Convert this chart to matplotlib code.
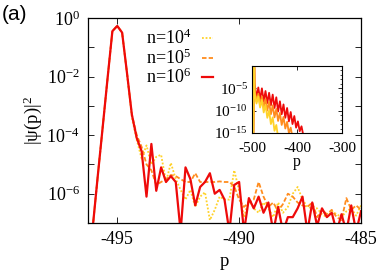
import numpy as np
import matplotlib
matplotlib.use('Agg')
import matplotlib.pyplot as plt
from matplotlib.ticker import FixedLocator, FuncFormatter, NullLocator, NullFormatter

plt.rcParams['font.family'] = 'Liberation Serif'
plt.rcParams['mathtext.fontset'] = 'custom'
plt.rcParams['mathtext.rm'] = 'Liberation Serif'
plt.rcParams['mathtext.it'] = 'Liberation Serif:italic'

##################
# DATA ###########
##################

# main panel: p grid and log10 |psi(p)|^2 for each n
p = [-496.2, -496.0, -495.8, -495.6, -495.4, -495.2, -495.0, -494.8, -494.6, -494.4,
     -494.2, -494.0, -493.8, -493.6, -493.4, -493.2, -493.0, -492.8, -492.6, -492.4,
     -492.2, -492.0, -491.8, -491.6, -491.4, -491.2, -491.0, -490.8, -490.6, -490.4,
     -490.2, -490.0, -489.8, -489.6, -489.4, -489.2, -489.0, -488.8, -488.6, -488.4,
     -488.2, -488.0, -487.8, -487.6, -487.4, -487.2, -487.0, -486.8, -486.6, -486.4,
     -486.2, -486.0, -485.8, -485.6, -485.4, -485.2, -485.0]

log_n6 = [-8.8, -7.1, -5.4, -3.75, -2.08, -0.45, -0.27, -0.5, -1.88, -3.3,
          -4.1, -4.55, -6.1, -4.3, -5.9, -5.1, -5.6, -5.4, -5.6, -7.3,
          -5.1, -5.5, -6.4, -5.77, -5.6, -5.3, -6.0, -5.87, -6.2, -7.3,
          -5.7, -5.6, -7.3, -6.15, -6.5, -6.1, -6.65, -6.3, -7.3, -6.45,
          -7.3, -6.8, -6.8, -6.5, -6.1, -7.3, -6.3, -7.1, -6.5, -6.8,
          -6.65, -7.3, -6.7, -7.3, -6.4, -7.3, -6.6]

log_n5 = [-8.8, -7.1, -5.4, -3.75, -2.08, -0.45, -0.27, -0.5, -1.88, -3.3,
          -4.0, -4.4, -5.0, -5.2, -5.7, -5.6, -5.5, -5.36, -5.4, -5.5,
          -5.6, -5.6, -5.3, -5.6, -5.6, -5.6, -5.6, -5.58, -5.6, -5.6,
          -5.75, -6.2, -6.45, -6.3, -6.2, -5.6, -6.1, -6.45, -6.3, -6.6,
          -6.35, -6.0, -6.1, -6.3, -6.4, -6.45, -6.3, -6.8, -6.55, -6.7,
          -6.55, -6.8, -6.9, -6.15, -6.55, -6.4, -6.55]

log_n4 = [-8.8, -7.1, -5.4, -3.75, -2.08, -0.45, -0.27, -0.5, -1.88, -3.4,
          -4.16, -4.8, -4.35, -5.0, -4.74, -4.67, -5.6, -4.95, -5.5, -5.87,
          -6.2, -5.87, -6.45, -6.1, -5.95, -6.9, -6.55, -6.1, -6.2, -6.2,
          -5.2, -5.9, -6.8, -6.2, -6.5, -6.65, -6.3, -6.5, -6.8, -6.3,
          -6.65, -6.45, -6.0, -5.77, -6.2, -6.45, -6.5, -6.5, -6.7, -6.8,
          -6.6, -6.7, -6.8, -6.6, -6.5, -6.75, -6.4]

# inset: wide p range, noisy band
p_in_n6 = [-497, -495, -494, -490, -486, -482, -478, -474, -470, -466, -462, -458,
           -454, -450, -446, -442, -438, -434, -430, -426, -422, -418, -414, -410,
           -406, -402, -398, -394, -390, -386]
log_in_n6 = [-16, -0.3, -4.0, -7.2, -4.8, -7.5, -5.0, -7.9, -5.6, -8.3, -6.0, -8.8,
             -6.4, -9.4, -7.0, -10.2, -7.9, -10.8, -8.6, -11.6, -9.4, -12.4, -10.3, -13.0,
             -11.2, -13.8, -12.4, -14.6, -13.5, -15.5]

p_in_n5 = [-497, -495, -494, -490, -486, -482, -478, -474, -470, -466, -462, -458,
           -454, -450, -446, -442, -438, -434, -430, -426, -422, -418, -414, -410]
log_in_n5 = [-16, -0.3, -5.5, -8.0, -6.2, -8.6, -6.8, -9.3, -7.4, -10.0, -8.0, -10.8,
             -8.8, -11.5, -9.6, -12.3, -10.5, -13.2, -11.4, -14.0, -12.5, -15.0, -13.8, -16]

p_in_n4 = [-497, -495, -494, -490, -486, -482, -478, -474, -470, -466, -462, -458,
           -454, -450, -446, -442]
log_in_n4 = [-16, -0.3, -6.0, -8.4, -6.8, -9.3, -7.6, -10.4, -8.7, -11.6, -10.0, -13.0,
             -11.5, -14.5, -13.2, -16]

labels = ['n=10$^{4}$', 'n=10$^{5}$', 'n=10$^{6}$']
colors = ['#FFD22A', '#FF8C1E', '#EE0A0A']
styles = [(0, (1, 1)), (0, (2.5, 1.2)), '-']

##################

W, H = 382, 274
fig = plt.figure(figsize=(W / 100, H / 100), dpi=100)


def fig_rect(x0, y0, x1, y1):
    return [x0 / W, 1 - y1 / H, (x1 - x0) / W, (y1 - y0) / H]


def hyphen_label(v, pos):
    return ('%d' % v).replace('\u2212', '-')


def pow_label(v, pos):
    return '10$^{%d}$' % int(round(np.log10(v)))


ax = fig.add_axes(fig_rect(88, 18, 361, 223))
for ys, i in [(log_n4, 0), (log_n5, 1), (log_n6, 2)]:
    ax.plot(p, 10.0 ** np.array(ys), color=colors[i], linestyle=styles[i],
            lw=1.6 if i == 2 else 1.3, label=labels[i])

ax.set_yscale('log')
ax.set_xlim(-496.2, -485)
ax.set_ylim(1e-7, 1e0)
ax.xaxis.set_major_locator(FixedLocator([-495, -490, -485]))
ax.xaxis.set_minor_locator(NullLocator())
ax.yaxis.set_major_locator(FixedLocator([10.0 ** -k for k in range(0, 8)]))
ax.yaxis.set_minor_locator(NullLocator())
ax.yaxis.set_major_formatter(FuncFormatter(
    lambda v, pos: pow_label(v, pos) if int(round(np.log10(v))) % 2 == 0 else ''))
ax.xaxis.set_major_formatter(FuncFormatter(hyphen_label))
ax.tick_params(which='both', direction='in', top=True, right=True, length=4,
               width=0.6, labelsize=13, pad=6)
for s in ax.spines.values():
    s.set_linewidth(0.9)
ax.set_xlabel('p', fontsize=13.5, labelpad=3)
ax.set_ylabel('|\u03c8(p)|$^2$', fontsize=13.5, labelpad=2)

handles, labs = ax.get_legend_handles_labels()
ax.legend(handles, labs, loc='upper left', bbox_to_anchor=(137 / W, 1 - 20 / H),
          bbox_transform=fig.transFigure, frameon=False, markerfirst=False,
          fontsize=13, handlelength=0.6, handletextpad=0.6, labelspacing=0.0,
          borderpad=0)

fig.text(2 / W, 1 - 5 / H, '(a)', family='Liberation Sans', fontsize=15, va='top', ha='left')

# inset
axi = fig.add_axes(fig_rect(252, 66, 342, 133))
for px, ly, i in [(p_in_n6, log_in_n6, 2), (p_in_n5, log_in_n5, 1), (p_in_n4, log_in_n4, 0)]:
    axi.plot(px, 10.0 ** np.array(ly), color=colors[i], lw=1.3)
axi.set_yscale('log')
axi.set_xlim(-500, -300)
axi.set_ylim(1e-15, 1e0)
axi.xaxis.set_major_locator(FixedLocator([-500, -400, -300]))
axi.xaxis.set_minor_locator(NullLocator())
axi.yaxis.set_major_locator(FixedLocator([1e-5, 1e-10, 1e-15]))
axi.yaxis.set_minor_locator(FixedLocator([10.0 ** -k for k in range(0, 16)]))
axi.yaxis.set_major_formatter(FuncFormatter(pow_label))
axi.yaxis.set_minor_formatter(NullFormatter())
axi.xaxis.set_major_formatter(FuncFormatter(hyphen_label))
axi.tick_params(which='major', direction='in', top=True, right=True, length=3,
                width=0.6, labelsize=11)
axi.tick_params(axis='x', which='major', pad=6.5)
axi.tick_params(axis='y', which='major', pad=3)
axi.tick_params(which='minor', direction='in', left=False, right=True, length=1.5, width=0.5)
for s in axi.spines.values():
    s.set_linewidth(0.8)
axi.set_xlabel('p', fontsize=11.5, labelpad=-1)

fig.savefig('out.png', dpi=100)
